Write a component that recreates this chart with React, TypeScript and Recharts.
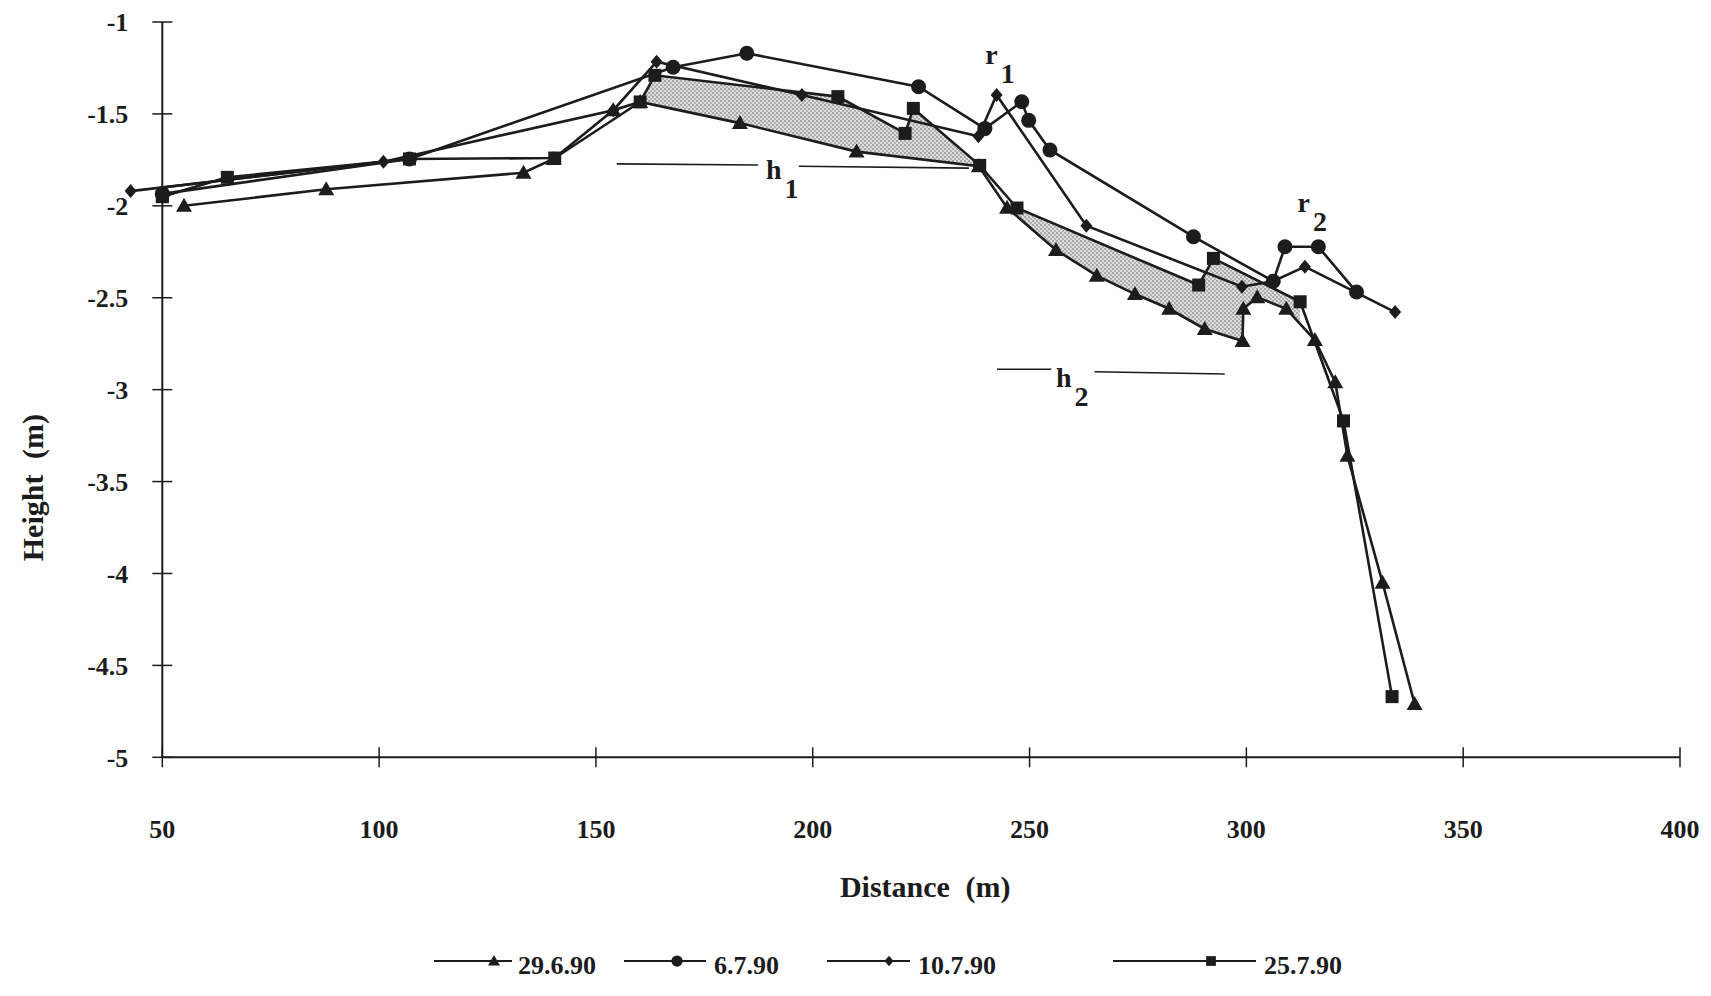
import React from 'react';
import { ComposedChart, Line, Area, XAxis, YAxis, ReferenceLine, ReferenceDot } from 'recharts';

const ink = '#1c1c1c';
const serif = '"Liberation Serif", "DejaVu Serif", serif';

// axis ticks
const xTicks = [50, 100, 150, 200, 250, 300, 350, 400];
const yTicks = [-1, -1.5, -2, -2.5, -3, -3.5, -4, -4.5, -5];

// beach profiles, distance (m) / height (m)
const p29690 = [
  { x: 55, y: -2.0 }, { x: 87.8, y: -1.91 }, { x: 133.3, y: -1.82 }, { x: 140.2, y: -1.745 },
  { x: 154, y: -1.48 }, { x: 160.2, y: -1.435 }, { x: 183.2, y: -1.55 }, { x: 210.1, y: -1.705 },
  { x: 238.3, y: -1.785 }, { x: 244.8, y: -2.01 }, { x: 256.1, y: -2.24 }, { x: 265.5, y: -2.38 },
  { x: 274.3, y: -2.48 }, { x: 282.2, y: -2.56 }, { x: 290.4, y: -2.67 }, { x: 299.1, y: -2.735 },
  { x: 299.3, y: -2.56 }, { x: 302.5, y: -2.497 }, { x: 309.2, y: -2.56 }, { x: 315.8, y: -2.73 },
  { x: 320.5, y: -2.96 }, { x: 323.3, y: -3.36 }, { x: 331.4, y: -4.05 }, { x: 338.8, y: -4.71 },
];
const p6790 = [
  { x: 50, y: -1.935 }, { x: 107, y: -1.745 }, { x: 167.8, y: -1.246 }, { x: 184.8, y: -1.17 },
  { x: 224.4, y: -1.352 }, { x: 239.7, y: -1.58 }, { x: 248.2, y: -1.434 }, { x: 249.8, y: -1.535 },
  { x: 254.7, y: -1.696 }, { x: 287.8, y: -2.168 }, { x: 306.2, y: -2.41 }, { x: 308.9, y: -2.223 },
  { x: 316.6, y: -2.223 }, { x: 325.4, y: -2.469 },
];
const p10790 = [
  { x: 42.7, y: -1.92 }, { x: 101, y: -1.76 }, { x: 154, y: -1.48 }, { x: 164, y: -1.216 },
  { x: 197.5, y: -1.397 }, { x: 238.2, y: -1.622 }, { x: 242.4, y: -1.397 }, { x: 263.1, y: -2.108 },
  { x: 299, y: -2.44 }, { x: 306.2, y: -2.41 }, { x: 313.5, y: -2.331 }, { x: 334.3, y: -2.578 },
];
const p25790 = [
  { x: 50, y: -1.95 }, { x: 65, y: -1.845 }, { x: 107, y: -1.745 }, { x: 140.5, y: -1.74 },
  { x: 160.2, y: -1.435 }, { x: 163.6, y: -1.29 }, { x: 205.8, y: -1.406 }, { x: 221.3, y: -1.606 },
  { x: 223.2, y: -1.47 }, { x: 238.5, y: -1.78 }, { x: 247.1, y: -2.012 }, { x: 289, y: -2.431 },
  { x: 292.4, y: -2.286 }, { x: 312.4, y: -2.522 }, { x: 322.4, y: -3.17 }, { x: 333.6, y: -4.67 },
];

const seriesList = [
  { name: '29.6.90', data: p29690, mark: 'triangle' },
  { name: '6.7.90', data: p6790, mark: 'circle' },
  { name: '10.7.90', data: p10790, mark: 'diamond' },
  { name: '25.7.90', data: p25790, mark: 'square' },
];

// shaded zones h1 / h2 : between 25.7.90 (top) and 29.6.90 (bottom).
// the bottom profile is used as a white mask, a bit wider than the stipple
const zones = [
  { top: p25790.filter((p) => p.x >= 160 && p.x <= 239), bottom: p29690.filter((p) => p.x >= 150 && p.x <= 245) },
  { top: p25790.filter((p) => p.x >= 247 && p.x <= 313), bottom: p29690.filter((p) => p.x >= 244 && p.x <= 321) },
];

// height markers and labels
const hLines = [
  { x1: 154.8, y1: -1.772, x2: 187.4, y2: -1.778 },
  { x1: 196.8, y1: -1.785, x2: 236, y2: -1.795 },
  { x1: 242.5, y1: -2.889, x2: 255, y2: -2.889 },
  { x1: 265, y1: -2.903, x2: 295, y2: -2.915 },
];
const notes = [
  { main: 'r', sub: '1', x: 239.8, y: -1.228 },
  { main: 'r', sub: '2', x: 311.8, y: -2.035 },
  { main: 'h', sub: '1', x: 189.2, y: -1.852 },
  { main: 'h', sub: '2', x: 256.1, y: -2.985 },
];

// legend item placement (page px): line start, line end, marker, text start
const legendPos = [
  { l: 434, r: 512, m: 494, t: 518 },
  { l: 624, r: 706, m: 677, t: 714 },
  { l: 827, r: 910, m: 889, t: 918 },
  { l: 1113, r: 1256, m: 1211, t: 1264 },
];

function Marker({ kind, cx, cy, s = 1 }: { kind: string; cx: number; cy: number; s?: number }) {
  if (cx == null || cy == null) return null;
  if (kind === 'triangle')
    return <polygon points={`${cx},${cy - 8 * s} ${cx - 8 * s},${cy + 6 * s} ${cx + 8 * s},${cy + 6 * s}`} fill={ink} />;
  if (kind === 'circle') return <circle cx={cx} cy={cy} r={7.5 * s} fill={ink} />;
  if (kind === 'diamond')
    return <polygon points={`${cx},${cy - 7 * s} ${cx + 6 * s},${cy} ${cx},${cy + 7 * s} ${cx - 6 * s},${cy}`} fill={ink} />;
  return <rect x={cx - 6.5 * s} y={cy - 6.5 * s} width={13 * s} height={13 * s} fill={ink} />;
}

const XTick = (p: any) => (
  <g>
    <line x1={p.x} x2={p.x} y1={p.y - 10} y2={p.y + 10} stroke={ink} strokeWidth={1.5} />
    <text x={p.x} y={p.y + 81} textAnchor="middle" fontFamily={serif} fontWeight={700} fontSize={26} fill={ink}>
      {p.payload.value}
    </text>
  </g>
);

const YTick = (p: any) => (
  <g>
    <line x1={p.x - 10} x2={p.x + 10} y1={p.y} y2={p.y} stroke={ink} strokeWidth={1.5} />
    <text x={p.x - 34} y={p.y} dy="0.36em" textAnchor="end" fontFamily={serif} fontWeight={700} fontSize={26} fill={ink}>
      {p.payload.value}
    </text>
  </g>
);

const XTitle = (props: any) => {
  const vb = props.viewBox ?? { x: 162, y: 757, width: 1518, height: 100 };
  return (
    <text x={vb.x + vb.width / 2 + 4} y={vb.y + 140} textAnchor="middle" fontFamily={serif} fontWeight={700}
      fontSize={30} fill={ink} style={{ wordSpacing: 8 }}>
      Distance (m)
    </text>
  );
};

const YTitle = (props: any) => {
  const vb = props.viewBox ?? { x: 0, y: 22, width: 162, height: 735 };
  const cx = vb.x + 33;
  const cy = vb.y + vb.height / 2 + 98;
  return (
    <text x={cx} y={cy} transform={`rotate(-90, ${cx}, ${cy})`} textAnchor="middle" dominantBaseline="central"
      fontFamily={serif} fontWeight={700} fontSize={30} fill={ink} style={{ wordSpacing: 8 }}>
      Height (m)
    </text>
  );
};

function LegendRow() {
  return (
    <svg style={{ position: 'absolute', left: 0, top: 940 }} width={1711} height={50}>
      {seriesList.map((s, i) => {
        const p = legendPos[i];
        return (
          <g key={s.name}>
            <line x1={p.l} x2={p.r} y1={21} y2={21} stroke={ink} strokeWidth={2} />
            <Marker kind={s.mark} cx={p.m} cy={21} s={0.75} />
            <text x={p.t} y={34} fontFamily={serif} fontWeight={700} fontSize={26} fill={ink}>{s.name}</text>
          </g>
        );
      })}
    </svg>
  );
}

export default function App() {
  const first = p10790[0];
  const second = p10790[1];
  return (
    <div style={{ position: 'absolute', left: 0, top: 0, width: 1711, height: 996, background: '#fff' }}>
      <ComposedChart width={1711} height={996} margin={{ top: 22, right: 31, bottom: 138.7, left: 0 }}>
        <defs>
          <pattern id="stipple" patternUnits="userSpaceOnUse" width="4" height="4">
            <rect width="4" height="4" fill="#dcdcdc" />
            <circle cx="1" cy="1" r="0.8" fill="#666" />
            <circle cx="3" cy="3" r="0.8" fill="#808080" />
          </pattern>
        </defs>
        <XAxis dataKey="x" type="number" domain={[50, 400]} allowDataOverflow ticks={xTicks} interval={0}
          height={100} tickSize={0} tickMargin={0} tickLine={false} stroke={ink} strokeWidth={2}
          tick={<XTick />} label={{ content: <XTitle /> }} />
        <YAxis type="number" domain={[-5, -1]} ticks={yTicks} interval={0} width={162.3}
          tickSize={0} tickMargin={0} tickLine={false} stroke={ink} strokeWidth={2}
          tick={<YTick />} label={{ content: <YTitle /> }} />

        {zones.map((z, i) => (
          <Area key={`zt${i}`} data={z.top} dataKey="y" type="linear" baseValue={-4.95} stroke="none"
            fill="url(#stipple)" fillOpacity={1} dot={false} activeDot={false} isAnimationActive={false} />
        ))}
        {zones.map((z, i) => (
          <Area key={`zb${i}`} data={z.bottom} dataKey="y" type="linear" baseValue={-4.95} stroke="none"
            fill="#ffffff" fillOpacity={1} dot={false} activeDot={false} isAnimationActive={false} />
        ))}

        {hLines.map((l, i) => (
          <ReferenceLine key={`hl${i}`} segment={[{ x: l.x1, y: l.y1 }, { x: l.x2, y: l.y2 }]}
            stroke={ink} strokeWidth={1.6} ifOverflow="visible" />
        ))}

        {seriesList.map((s) => (
          <Line key={s.name} name={s.name} data={s.data} dataKey="y" type="linear" stroke={ink} strokeWidth={2.6}
            dot={(p: any) => <Marker key={`${s.mark}-${p.index}`} kind={s.mark} cx={p.cx} cy={p.cy} />}
            activeDot={false} isAnimationActive={false} />
        ))}

        {/* the first 10.7.90 point lies left of the 50 m axis */}
        <ReferenceLine segment={[{ x: first.x, y: first.y }, { x: second.x, y: second.y }]}
          stroke={ink} strokeWidth={2.6} ifOverflow="visible" />
        {[
          { pt: p10790[0], kind: 'diamond' },
          { pt: p6790[0], kind: 'circle' },
          { pt: p25790[0], kind: 'square' },
        ].map((e) => (
          <ReferenceDot key={`edge-${e.kind}`} x={e.pt.x} y={e.pt.y} r={0} ifOverflow="visible"
            shape={(p: any) => <Marker kind={e.kind} cx={p.cx} cy={p.cy} />} />
        ))}

        {notes.map((n) => (
          <ReferenceDot key={n.main + n.sub} x={n.x} y={n.y} r={0} ifOverflow="visible"
            shape={(p: any) => (
              <text x={p.cx} y={p.cy} fontFamily={serif} fontWeight={700} fontSize={28} fill={ink}>
                {n.main}
                <tspan dx={3} dy={19}>{n.sub}</tspan>
              </text>
            )} />
        ))}
      </ComposedChart>
      <LegendRow />
    </div>
  );
}
